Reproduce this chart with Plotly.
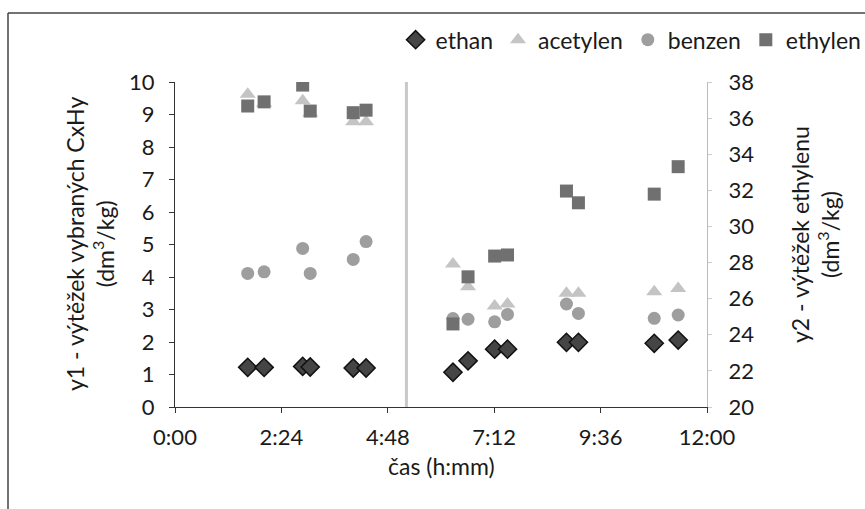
import plotly.graph_objects as go

# time in hours
time_h = [1.64, 2.01, 2.88, 3.05, 4.02, 4.31,
          6.27, 6.61, 7.21, 7.50, 8.83, 9.10, 10.81, 11.35]
ethan = [1.22, 1.22, 1.25, 1.23, 1.20, 1.20,
         1.07, 1.42, 1.78, 1.78, 1.99, 1.99, 1.96, 2.06]
acetylen = [9.62, 9.35, 9.42, 9.05, 8.78, 8.78,
            4.40, 3.70, 3.11, 3.17, 3.50, 3.50, 3.55, 3.65]
benzen = [4.11, 4.16, 4.88, 4.11, 4.54, 5.09,
          2.72, 2.70, 2.62, 2.85, 3.17, 2.88, 2.73, 2.83]
ethylen = [36.67, 36.90, 37.83, 36.39, 36.30, 36.44,
           24.60, 27.21, 28.36, 28.42, 31.96, 31.31, 31.79, 33.31]
separator_time = 5.22

x_tickvals = [0, 2.4, 4.8, 7.2, 9.6, 12]
x_ticktext = ["0:00", "2:24", "4:48", "7:12", "9:36", "12:00"]

FONT = "Lato, Open Sans, sans-serif"
FS = 22
fig = go.Figure()

fig.add_trace(go.Scatter(x=[separator_time, separator_time], y=[-0.1, 10.1], mode="lines",
                         line=dict(color="#c8c8c8", width=3), showlegend=False, hoverinfo="skip",
                         cliponaxis=False))
fig.add_trace(go.Scatter(x=time_h, y=ethan, mode="markers", name="ethan",
                         marker=dict(symbol="diamond", size=14, color="#454545",
                                     line=dict(color="#111111", width=1.5))))
fig.add_trace(go.Scatter(x=time_h, y=acetylen, mode="markers", name="acetylen",
                         marker=dict(symbol="triangle-up", size=14, color="#c4c4c4")))
fig.add_trace(go.Scatter(x=time_h, y=benzen, mode="markers", name="benzen",
                         marker=dict(symbol="circle", size=13, color="#9e9e9e")))
fig.add_trace(go.Scatter(x=time_h, y=ethylen, mode="markers", name="ethylen", yaxis="y2",
                         marker=dict(symbol="square", size=13, color="#707070")))

fig.update_layout(
    width=865, height=509,
    margin=dict(l=175, r=158, t=82, b=102, autoexpand=False),
    paper_bgcolor="white", plot_bgcolor="white",
    font=dict(family=FONT, size=FS, color="#1a1a1a"),
    showlegend=True,
    legend=dict(orientation="h", x=1.30, xanchor="right", y=1.13, yanchor="middle",
                font=dict(size=FS + 1), itemwidth=30, tracegroupgap=0,
                bgcolor="rgba(0,0,0,0)"),
    xaxis=dict(range=[0, 12], tickvals=x_tickvals, ticktext=x_ticktext, automargin=False,
               showgrid=False, zeroline=False, showline=True, linecolor="#333333",
               linewidth=1, ticks="outside", ticklen=5, tickcolor="#333333",
               ticklabelstandoff=6),
    yaxis=dict(range=[0, 10], dtick=1, showgrid=False, zeroline=False, showline=True,
               linecolor="#333333", linewidth=1, ticks="outside", ticklen=5, automargin=False,
               tickcolor="#333333", ticklabelstandoff=10),
    yaxis2=dict(range=[20, 38], dtick=2, overlaying="y", side="right", showgrid=False,
                zeroline=False, showline=True, linecolor="#bbbbbb", linewidth=1, automargin=False,
                ticks="outside", ticklen=4, tickcolor="#cccccc", ticklabelstandoff=12),
    annotations=[
        dict(text="y1 - výtěžek vybraných CxHy<br>(dm<sup>3</sup>/kg)", xref="paper", yref="paper",
             x=(90 - 175) / 532, y=(407 - 244) / 325, textangle=-90, showarrow=False,
             xanchor="center", yanchor="middle", font=dict(size=FS + 1)),
        dict(text="y2 - výtěžek ethylenu<br>(dm<sup>3</sup>/kg)", xref="paper", yref="paper",
             x=(815 - 175) / 532, y=(407 - 235) / 325, textangle=-90, showarrow=False,
             xanchor="center", yanchor="middle", font=dict(size=FS + 1)),
        dict(text="čas (h:mm)", xref="paper", yref="paper",
             x=(441 - 175) / 532, y=-(466 - 407) / 325, showarrow=False,
             xanchor="center", yanchor="middle", font=dict(size=FS + 1)),
    ],
    shapes=[
        dict(type="line", xref="paper", yref="paper", x0=(8 - 175) / 532, x1=(865 - 175) / 532,
             y0=(407 - 13) / 325, y1=(407 - 13) / 325, line=dict(color="#444444", width=1.5)),
        dict(type="line", xref="paper", yref="paper", x0=(8 - 175) / 532, x1=(8 - 175) / 532,
             y0=(407 - 13) / 325, y1=(407 - 509) / 325, line=dict(color="#444444", width=1.5)),
    ],
)

fig.write_html("out.html")
